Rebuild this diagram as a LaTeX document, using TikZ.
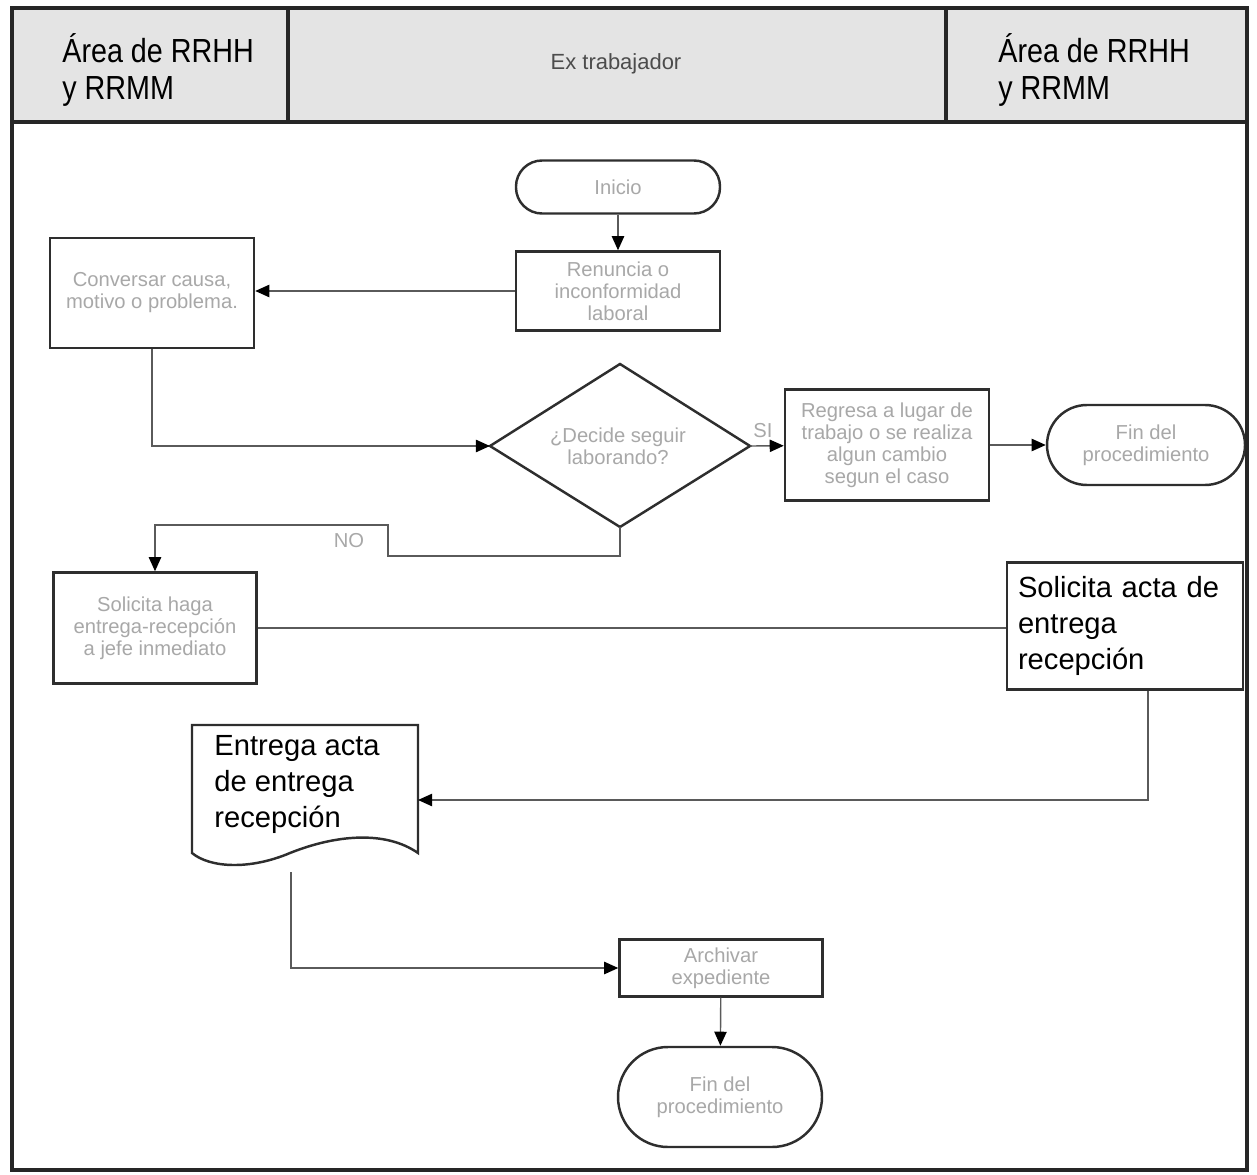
\documentclass[tikz,border=0pt]{standalone}
\usepackage{fontspec}
\setmainfont{Liberation Sans}
\usetikzlibrary{arrows.meta,calc}
\newfontfamily\hdrfont[FakeStretch=0.86]{Liberation Sans}
\def\pxu{0.02cm}
\definecolor{boxline}{HTML}{2E2E2E}
\definecolor{conn}{HTML}{5A5A5A}
\definecolor{txtgrey}{HTML}{A8A8A8}
\definecolor{hdrfill}{HTML}{E4E4E4}
\tikzset{
  box/.style={draw=boxline, line width=1.4pt, fill=white, align=center,
    text=txtgrey, font=\fontsize{11.5}{12.5}\selectfont, inner sep=2pt},
  pill/.style={box, rounded corners=#1},
  bigtxt/.style={font=\fontsize{16.6}{20.5}\selectfont, text=black, align=left},
  conline/.style={draw=conn, line width=0.8pt},
  arr/.style={conline, -{Triangle[length=8pt,width=7pt,color=black]}},
  lbl/.style={text=txtgrey, font=\fontsize{11.5}{12.5}\selectfont},
  hdr/.style={font=\hdrfont\fontsize{19}{21}\selectfont, align=left, anchor=north west, inner sep=0pt},
}
\begin{document}
\begin{tikzpicture}[x=0.02cm, y=-0.02cm]
\useasboundingbox (0,0) rectangle (1257,1175);
% header
\fill[hdrfill] (12,8) rectangle (1247,122);
\node[hdr] (h1) at (62,33) {Área de RRHH\\y RRMM};
\node[hdr] (h3) at (998,33) {Área de RRHH\\y RRMM};
\node[text=black!70, font=\fontsize{12.5}{14}\selectfont] (h2) at (616,64) {Ex trabajador};
% nodes
\node[pill=26*\pxu, minimum width=204*\pxu, minimum height=53*\pxu] (inicio) at (618,187) {Inicio};
\node[box, minimum width=204*\pxu, minimum height=79*\pxu] (renuncia) at (618,291) {Renuncia o\\inconformidad\\laboral};
\node[box, minimum width=204*\pxu, minimum height=110*\pxu] (conversar) at (152,293) {Conversar causa,\\motivo o problema.};
% decision
\coordinate (dT) at (620,364);
\coordinate (dB) at (620,527);
\coordinate (dL) at (490,446);
\coordinate (dR) at (750,446);
\draw[draw=boxline, line width=1.4pt, fill=white, line join=miter] (dT) -- (dR) -- (dB) -- (dL) -- cycle;
\node[lbl, align=center] (decide) at (618,446) {¿Decide seguir\\laborando?};
\node[box, minimum width=204*\pxu, minimum height=111*\pxu] (regresa) at (887,445) {Regresa a lugar de\\trabajo o se realiza\\algun cambio\\segun el caso};
\node[pill=40*\pxu, minimum width=198*\pxu, minimum height=80*\pxu] (fin1) at (1146,445) {Fin del\\procedimiento};
\node[box, minimum width=203*\pxu, minimum height=111*\pxu] (solhaga) at (155,628) {Solicita haga\\entrega-recepción\\a jefe inmediato};
\node[box, bigtxt, minimum width=236*\pxu, minimum height=127*\pxu, text width=214*\pxu, inner sep=0pt] (solacta) at (1125,626) {Solicita acta de\\entrega\\recepción};
% document shape
\coordinate (docNW) at (192,725);
\coordinate (docE) at (418,800);
\coordinate (docS) at (291,872);
\draw[draw=boxline, line width=1.4pt, fill=white] (192,725) -- (418,725) -- (418,853)
  .. controls (385,830) and (335,835) .. (290,853)
  .. controls (250,870) and (210,868) .. (192,853) -- cycle;
\node[bigtxt, anchor=north west, inner sep=0pt] (doc) at (214,735) {Entrega acta\\de entrega\\recepción};
\node[box, minimum width=203*\pxu, minimum height=57*\pxu] (archivar) at (721,968) {Archivar\\expediente};
\node[pill=50*\pxu, minimum width=204*\pxu, minimum height=100*\pxu] (fin2) at (720,1097) {Fin del\\procedimiento};
% connectors
\draw[arr] (inicio) -- (renuncia);
\draw[arr] (renuncia.west) -- (renuncia.west -| conversar.east);
\draw[arr] (conversar.south) |- (dL);
\draw[arr] (dR) -- (regresa);
\node[lbl] (si) at (763,431) {SI};
\draw[arr] (regresa) -- (fin1);
\coordinate (n1) at (620,556);
\coordinate (n2) at (388,525);
\draw[arr] (dB) -- (n1) -| (n2) -| (solhaga.north);
\node[lbl] (no) at (349,541) {NO};
\draw[conline] (solhaga.east) -- (solacta.west |- solhaga.east);
\draw[arr] ($(solacta.south)+(23,0)$) |- (docE);
\draw[arr] (docS) |- (archivar.west);
\draw[arr] (archivar) -- (fin2);
% frame
\draw[draw=black!85, line width=2.2pt] (12,8) rectangle (1247,1170);
\draw[draw=black!85, line width=2pt] (12,122) -- (1247,122);
\draw[draw=black!85, line width=2pt] (288,8) -- (288,122);
\draw[draw=black!85, line width=2pt] (946,8) -- (946,122);
\end{tikzpicture}
\end{document}
